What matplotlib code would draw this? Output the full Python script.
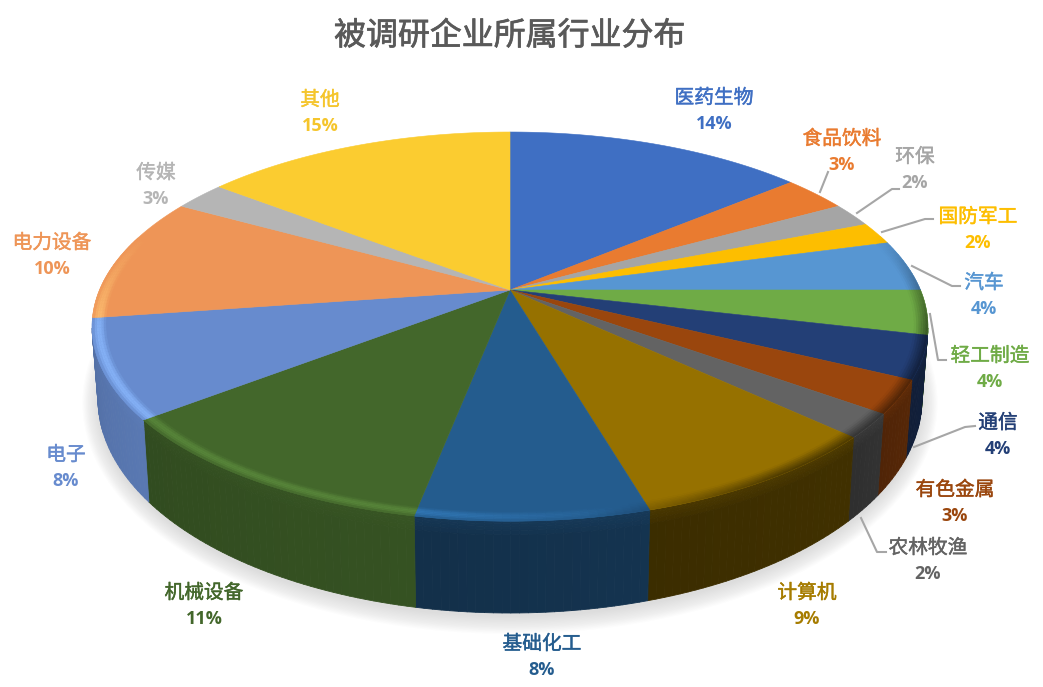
import numpy as np
import matplotlib
matplotlib.use("Agg")
import matplotlib.pyplot as plt
import matplotlib.patheffects as pe
from matplotlib.collections import PolyCollection
from matplotlib.patches import Ellipse

plt.rcParams['font.family'] = ['Noto Sans CJK SC', 'DejaVu Sans']

# data (slice sizes from the drawn angles, labels as printed)
names = ["医药生物", "食品饮料", "环保", "国防军工", "汽车", "轻工制造", "通信", "有色金属",
         "农林牧渔", "计算机", "基础化工", "机械设备", "电子", "电力设备", "传媒", "其他"]
sizes = [13.9, 3.0, 2.0, 1.85, 4.25, 3.7, 3.55, 2.75, 2.0, 8.5, 7.55, 11.45, 8.2, 10.4, 2.4, 14.5]
percents = [14, 3, 2, 2, 4, 4, 4, 3, 2, 9, 8, 11, 8, 10, 3, 15]
colors = ["#3F6FC3", "#E97B30", "#A5A5A5", "#FDBE00", "#5796D2", "#6FAB46", "#233F76", "#9A460D",
          "#636363", "#967100", "#245C8E", "#43672B", "#678BCE", "#EE9557", "#B5B5B5", "#FBCC30"]
text_colors = ["#3F6FC3", "#E97B30", "#A5A5A5", "#FDBE00", "#5796D2", "#6FAB46", "#233F76", "#9A460D",
               "#636363", "#A67C00", "#245C8E", "#43672B", "#678BCE", "#EE9557", "#B5B5B5", "#F5C52C"]
title = "被调研企业所属行业分布"

# how dark the side wall of each slice is
wall_shade = [1, 1, 1, 1, .6, .6, .5, .55, .5, .42, .55, .78, .85, 1, 1, 1]

# label centres in pixels: name line
label_x = [714, 842, 915, 978, 984, 990, 998, 955, 928, 807, 542, 204, 66, 52, 156, 320]
label_y = [98, 139, 157, 217, 283, 356, 423, 490, 548, 593, 644, 593, 455, 243, 173, 100]
leaders = [
    [(820, 192), (828, 172)],
    [(857, 213), (892, 189), (899, 189)],
    [(882, 232), (925, 219), (933, 219)],
    [(912, 266), (952, 286), (960, 286)],
    [(930, 314), (938, 360), (946, 360)],
    [(914, 447), (965, 427), (975, 426)],
    [(861, 518), (877, 552), (886, 552)],
]

W, H = 1043, 687
CX, CY = 510, 290
R, RY, K = 410.5, 187.7, 0.188
# lower edge of the wall
BOT_A, BOT_B, BOT_Y, BOT_X = 412, 214, 399, 0.985


def top_point(t, r=1.0):
    # perspective view of a point on the disc, t clockwise from 12 o'clock
    u, v = r * np.sin(t), r * np.cos(t)
    w = 1 + K * v
    return CX + R * u / w, CY - RY * v / w


def bottom_point(t):
    x, _ = top_point(t)
    dx = (x - CX) * BOT_X
    return CX + dx, BOT_Y + BOT_B * np.sqrt(np.clip(1 - (dx / BOT_A) ** 2, 0, 1))


def mix(col, other, amount):
    return tuple(np.array(col) * (1 - amount) + np.array(other) * amount)


def rgb(c):
    return matplotlib.colors.to_rgb(c)


fig = plt.figure(figsize=(W / 100, H / 100), dpi=100)
ax = fig.add_axes([0, 0, 1, 1])
ax.set_xlim(0, W)
ax.set_ylim(H, 0)
ax.axis('off')

# soft shadow below the pie
for i in range(14):
    ax.add_patch(Ellipse((CX, BOT_Y + 4), 2 * (BOT_A + 1.2 * i), 2 * (BOT_B + 1.3 * i),
                         facecolor='#707070', edgecolor='none', alpha=0.016, zorder=1))

edges = np.cumsum([0] + sizes) / sum(sizes) * 2 * np.pi

# walls
wall_polys, wall_cols = [], []
levels = [0, .03, .06, .1, .15, 1]
for s in range(len(sizes)):
    a0, a1 = edges[s], edges[s + 1]
    n = max(2, int(np.degrees(a1 - a0)))
    ts = np.linspace(a0, a1, n + 1)
    base = rgb(colors[s])
    wall = tuple(np.array(base) * wall_shade[s])
    for t0, t1 in zip(ts[:-1], ts[1:]):
        tm = (t0 + t1) / 2
        if np.cos(tm) > -K:
            continue
        x0, y0 = top_point(t0)
        x1, y1 = top_point(t1)
        bx0, by0 = bottom_point(t0)
        bx1, by1 = bottom_point(t1)
        # small drift inside each slice, darker towards its far end
        drift = 1.02 - 0.08 * (tm - a0) / (a1 - a0)
        for f0, f1 in zip(levels[:-1], levels[1:]):
            quad = [(x0 + (bx0 - x0) * f0, y0 + (by0 - y0) * f0),
                    (x1 + (bx1 - x1) * f0, y1 + (by1 - y1) * f0),
                    (x1 + (bx1 - x1) * f1, y1 + (by1 - y1) * f1),
                    (x0 + (bx0 - x0) * f1, y0 + (by0 - y0) * f1)]
            c = np.array(wall) * drift
            glow = max(0, 1 - f0 / 0.15) * 0.15
            wall_polys.append(quad)
            wall_cols.append(tuple(np.clip(mix(c, base, glow), 0, 1)))
ax.add_collection(PolyCollection(wall_polys, facecolors=wall_cols, edgecolors=wall_cols,
                                 linewidths=0.6, zorder=2))

# top faces
for s in range(len(sizes)):
    a0, a1 = edges[s], edges[s + 1]
    ts = np.linspace(a0, a1, max(3, int(np.degrees(a1 - a0)) * 2))
    xs, ys = top_point(ts)
    ax.fill(np.r_[CX, xs], np.r_[CY, ys], facecolor=colors[s], edgecolor=colors[s],
            linewidth=0.4, zorder=3)

# bevel round the rim: tinted light on the left and front, dark on the right
ring_polys, ring_cols = [], []
radii = np.linspace(0.968, 1.0, 7)
for s in range(len(sizes)):
    a0, a1 = edges[s], edges[s + 1]
    ts = np.linspace(a0, a1, max(2, int(np.degrees(a1 - a0))) + 1)
    base = rgb(colors[s])
    tint = tuple(np.clip(np.array(base) * 1.3 + 0.02, 0, 1))
    for t0, t1 in zip(ts[:-1], ts[1:]):
        tm = (t0 + t1) / 2
        u, v = np.sin(tm), np.cos(tm)
        amount = np.clip((0.3 - v) / 0.5, 0, 1)
        if amount <= 0:
            continue
        light = np.clip((0.28 - u) / 0.6, 0, 0.8)
        dark = np.clip((u - 0.15) / 0.8, 0, 0.5)
        for r0, r1 in zip(radii[:-1], radii[1:]):
            rm = (r0 + r1) / 2
            pos = (rm - radii[0]) / (radii[-1] - radii[0])
            hump = np.sin(np.pi * pos)
            c = mix(base, tint, light * hump * amount)
            c = mix(c, (0, 0, 0), dark * pos * amount)
            x00, y00 = top_point(t0, r0)
            x01, y01 = top_point(t1, r0)
            x11, y11 = top_point(t1, r1)
            x10, y10 = top_point(t0, r1)
            ring_polys.append([(x00, y00), (x01, y01), (x11, y11), (x10, y10)])
            ring_cols.append(c)
ax.add_collection(PolyCollection(ring_polys, facecolors=ring_cols, edgecolors=ring_cols,
                                 linewidths=0.3, zorder=4))

# leader lines
for line in leaders:
    ax.plot([p[0] for p in line], [p[1] for p in line], color='#a6a6a6', lw=1.5,
            solid_joinstyle='round', zorder=5)

# labels, the thin stroke thickens the regular weight
for name, pct, col, x, y in zip(names, percents, text_colors, label_x, label_y):
    ax.text(x, y, name, color=col, fontsize=14.2, ha='center', va='center', zorder=6,
            path_effects=[pe.withStroke(linewidth=0.3, foreground=col)])
    ax.text(x, y + 26, f"{pct}%", color=col, fontsize=13, weight='bold', ha='center', va='center',
            family=['Open Sans', 'DejaVu Sans'], zorder=6)

ax.text(510, 36, title, color='#595959', fontsize=23, ha='center', va='center', zorder=6,
        path_effects=[pe.withStroke(linewidth=0.5, foreground='#595959')])

fig.savefig("out.png", dpi=100)
plt.close(fig)
